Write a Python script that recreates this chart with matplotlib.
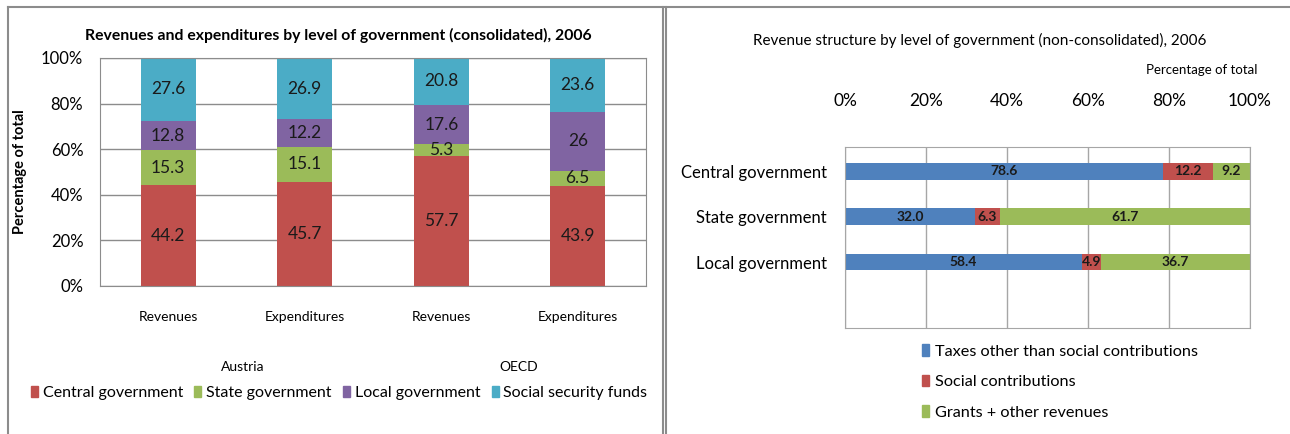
import numpy as np
import matplotlib
matplotlib.use("Agg")
import matplotlib.pyplot as plt
from matplotlib.patches import Patch
from matplotlib.lines import Line2D

plt.rcParams['font.family'] = ['Lato', 'DejaVu Sans']

# left chart: consolidated revenues / expenditures
left_cats = ["Revenues", "Expenditures", "Revenues", "Expenditures"]
groups = ["Austria", "OECD"]
levels = ["Central government", "State government", "Local government", "Social security funds"]
central = [44.2, 45.7, 57.7, 43.9]
state = [15.3, 15.1, 5.3, 6.5]
local = [12.8, 12.2, 17.6, 26.0]
social = [27.6, 26.9, 20.8, 23.6]
left_labels = [["44.2", "45.7", "57.7", "43.9"],
               ["15.3", "15.1", "5.3", "6.5"],
               ["12.8", "12.2", "17.6", "26"],
               ["27.6", "26.9", "20.8", "23.6"]]

# right chart: revenue structure
right_cats = ["Central government", "State government", "Local government"]
sources = ["Taxes other than social contributions", "Social contributions", "Grants + other revenues"]
taxes = [78.6, 32.0, 58.4]
soc_contrib = [12.2, 6.3, 4.9]
grants = [9.2, 61.7, 36.7]

left_colors = ["#C0504D", "#9BBB59", "#8064A2", "#4BACC6"]
right_colors = ["#4F81BD", "#C0504D", "#9BBB59"]
grid_c = "#8C8C8C"

W, H = 1290, 434
fig = plt.figure(figsize=(W / 100, H / 100), dpi=100)


def fx(px):
    return px / W


def fy(py):
    return 1 - py / H


# panel borders
for seg in [((8, 8), (7, 434)), ((8, 1290), (7, 7)), ((663, 663), (7, 434)), ((666, 666), (7, 434))]:
    fig.add_artist(Line2D([fx(seg[0][0]), fx(seg[0][1])], [fy(seg[1][0]), fy(seg[1][1])],
                          color="#8C8C8C", lw=1.5, transform=fig.transFigure))

# ---------- left chart ----------
ax = fig.add_axes([fx(100), fy(286), fx(646) - fx(100), fy(58) - fy(286)])
series = np.array([central, state, local, social])
pct = series / series.sum(axis=0) * 100
x = np.arange(len(left_cats))
bottom = np.zeros(len(left_cats))
for i in range(len(levels)):
    ax.bar(x, pct[i], bottom=bottom, width=0.4, color=left_colors[i], label=levels[i], zorder=2)
    for j in range(len(x)):
        ax.text(x[j], bottom[j] + pct[i][j] / 2, left_labels[i][j], ha="center", va="center",
                fontsize=12.5, color="#1a1a1a", zorder=3)
    bottom += pct[i]
ax.set_xlim(-0.5, 3.5)
ax.set_ylim(0, 100)
ax.set_yticks(np.arange(0, 101, 20))
ax.set_yticklabels([f"{v}%" for v in range(0, 101, 20)], fontsize=12)
ax.set_xticks(x)
ax.set_xticklabels(left_cats, fontsize=10)
ax.tick_params(length=0)
ax.tick_params(axis="x", pad=18)
ax.tick_params(axis="y", pad=12)
ax.grid(axis="y", color=grid_c, lw=1, zorder=0)
for s in ax.spines.values():
    s.set_color(grid_c)
fig.text(fx(20), fy(172), "Percentage of total", rotation=90, ha="center", va="center",
         fontsize=10.5, fontweight="bold")
fig.text(fx(338), fy(35), "Revenues and expenditures by level of government (consolidated), 2006",
         ha="center", va="center", fontsize=11.3, fontweight="bold")
fig.text(fx(243), fy(367), groups[0], ha="center", va="center", fontsize=10)
fig.text(fx(519), fy(367), groups[1], ha="center", va="center", fontsize=10)
h_left = [Patch(color=c) for c in left_colors]
fig.legend(h_left, levels, loc="center", bbox_to_anchor=(fx(339), fy(393)), ncol=4, frameon=False,
           fontsize=11.5, handlelength=0.45, handleheight=0.7, handletextpad=0.3, columnspacing=0.7)

# ---------- right chart ----------
ax2 = fig.add_axes([fx(845), fy(328), fx(1250) - fx(845), fy(147) - fy(328)])
y = np.arange(len(right_cats))
rs = [taxes, soc_contrib, grants]
left_acc = np.zeros(len(right_cats))
for i in range(len(sources)):
    ax2.barh(y, rs[i], left=left_acc, height=0.37, color=right_colors[i], label=sources[i], zorder=2)
    for j in range(len(y)):
        ax2.text(left_acc[j] + rs[i][j] / 2, y[j], f"{rs[i][j]:.1f}", ha="center", va="center",
                 fontsize=10, fontweight="bold", color="#1a1a1a", zorder=3)
    left_acc += np.array(rs[i])
ax2.set_xlim(0, 100)
ax2.set_ylim(3.45, -0.53)
ax2.set_xticks(np.arange(0, 101, 20))
ax2.set_xticklabels([f"{v}%" for v in range(0, 101, 20)], fontsize=12.5)
ax2.xaxis.tick_top()
ax2.set_yticks(y)
ax2.set_yticklabels(right_cats, fontsize=12)
ax2.tick_params(length=0)
ax2.tick_params(axis="x", pad=27)
ax2.tick_params(axis="y", pad=13)
ax2.grid(axis="x", color="#A6A6A6", lw=1, zorder=0)
for s in ax2.spines.values():
    s.set_color("#A6A6A6")
fig.text(fx(980), fy(40), "Revenue structure by level of government (non-consolidated), 2006",
         ha="center", va="center", fontsize=11)
fig.text(fx(1258), fy(70), "Percentage of total", ha="right", va="center", fontsize=9.5)
h_right = [Patch(color=c) for c in right_colors]
fig.legend(h_right, sources, loc="upper left", bbox_to_anchor=(fx(914), fy(336)), ncol=1,
           frameon=False, fontsize=11.7, handlelength=0.45, handleheight=0.7, handletextpad=0.35,
           labelspacing=1.0, borderpad=0)

fig.savefig("out.png", dpi=100)
